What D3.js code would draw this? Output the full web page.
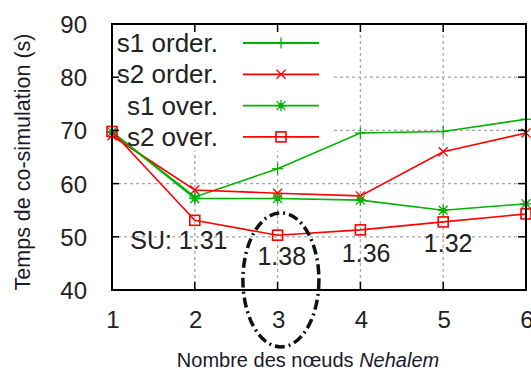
<!DOCTYPE html>
<html><head><meta charset="utf-8">
<script src="https://cdn.jsdelivr.net/npm/d3@7"></script>
<style>body{margin:0;background:#fff}svg{display:block}text{font-family:"Liberation Sans",Arial,sans-serif}</style>
</head><body><div id="c"></div>
<script>
const nodes = [1, 2, 3, 4, 5, 6];
const s1Order = [69.7, 57.5, 62.8, 69.5, 69.8, 72.1];
const s2Order = [69.0, 58.8, 58.2, 57.7, 66.0, 69.5];
const s1Over  = [69.7, 57.2, 57.2, 56.9, 55.0, 56.2];
const s2Over  = [69.8, 53.1, 50.3, 51.3, 52.8, 54.3];
const yTicks = [40, 50, 60, 70, 80, 90];
const xTicks = [1, 2, 3, 4, 5, 6];
const seriesNames = ["s1 order.", "s2 order.", "s1 over.", "s2 over."];
const speedupLabels = ["SU: 1.31", "1.38", "1.36", "1.32"];
const speedupX = [1.22, 3.05, 4.07, 5.06];
const speedupY = [47.7, 44.7, 45.3, 47.1];

const W = 531, H = 372;
const svg = d3.select("#c").append("svg").attr("width", W).attr("height", H);
const x = d3.scaleLinear().domain([1, 6]).range([112, 526]);
const y = d3.scaleLinear().domain([40, 90]).range([290, 24]);

const series = [
  {name: seriesNames[0], vals: s1Order, color: "#00b400", marker: "plus"},
  {name: seriesNames[1], vals: s2Order, color: "#ff0000", marker: "cross"},
  {name: seriesNames[2], vals: s1Over,  color: "#00b400", marker: "star"},
  {name: seriesNames[3], vals: s2Over,  color: "#ff0000", marker: "square"}
];

// grid
const grid = svg.append("g").attr("stroke", "#a8a8a8").attr("stroke-width", 1.3).attr("stroke-dasharray", "3,3");
xTicks.slice(1, -1).forEach(t => grid.append("line").attr("x1", x(t)).attr("x2", x(t)).attr("y1", y(40)).attr("y2", y(90)));
yTicks.slice(1, -1).forEach(t => grid.append("line").attr("x1", x(1)).attr("x2", x(6)).attr("y1", y(t)).attr("y2", y(t)));

// legend box (opaque)
svg.append("rect").attr("x", x(1) + 1).attr("y", y(90) + 1).attr("width", 218).attr("height", 126).attr("fill", "#fff");

function marker(g, type, cx, cy, color) {
  const m = g.append("g").attr("transform", `translate(${cx},${cy})`).attr("stroke", color).attr("fill", "none").attr("stroke-width", 1.3);
  const r = 5.5;
  if (type === "plus" || type === "star") {
    m.append("line").attr("x1", -r).attr("x2", r).attr("y1", 0).attr("y2", 0);
    m.append("line").attr("x1", 0).attr("x2", 0).attr("y1", -r).attr("y2", r);
  }
  if (type === "cross" || type === "star") {
    const q = 4.5;
    m.append("line").attr("x1", -q).attr("x2", q).attr("y1", -q).attr("y2", q);
    m.append("line").attr("x1", -q).attr("x2", q).attr("y1", q).attr("y2", -q);
  }
  if (type === "star") m.append("circle").attr("r", 2).attr("fill", color);
  if (type === "square") m.append("rect").attr("x", -5).attr("y", -5).attr("width", 10).attr("height", 10).attr("stroke-width", 1.6);
}

// series
const line = d3.line().x((d, i) => x(nodes[i])).y(d => y(d));
const plot = svg.append("g");
series.forEach(s => {
  plot.append("path").datum(s.vals).attr("d", line).attr("fill", "none").attr("stroke", s.color).attr("stroke-width", 1.6);
  s.vals.forEach((v, i) => marker(plot, s.marker, x(nodes[i]), y(v), s.color));
});

// legend
const lg = svg.append("g");
series.forEach((s, i) => {
  const cy = 43 + i * 31.3;
  lg.append("text").attr("x", 218).attr("y", cy + 9).attr("text-anchor", "end").attr("font-size", 26).attr("fill", "#222").text(s.name);
  lg.append("line").attr("x1", 243).attr("x2", 319).attr("y1", cy).attr("y2", cy).attr("stroke", s.color).attr("stroke-width", 1.8);
  marker(lg, s.marker, 281, cy, s.color);
});

// border + ticks
const ax = svg.append("g").attr("stroke", "#000");
ax.append("rect").attr("x", x(1)).attr("y", y(90)).attr("width", x(6) - x(1)).attr("height", y(40) - y(90)).attr("fill", "none").attr("stroke-width", 2);
xTicks.slice(1, -1).forEach(t => {
  ax.append("line").attr("x1", x(t)).attr("x2", x(t)).attr("y1", y(40)).attr("y2", y(40) - 8).attr("stroke-width", 1.5);
  ax.append("line").attr("x1", x(t)).attr("x2", x(t)).attr("y1", y(90)).attr("y2", y(90) + 8).attr("stroke-width", 1.5);
});
yTicks.slice(1, -1).forEach(t => {
  ax.append("line").attr("x1", x(1)).attr("x2", x(1) + 7).attr("y1", y(t)).attr("y2", y(t)).attr("stroke-width", 1.5);
  ax.append("line").attr("x1", x(6)).attr("x2", x(6) - 8).attr("y1", y(t)).attr("y2", y(t)).attr("stroke-width", 1.5);
});

// tick labels
svg.append("g").selectAll("text").data(yTicks).join("text")
  .attr("x", 87).attr("y", d => y(d) + 9).attr("text-anchor", "end").attr("font-size", 24).attr("fill", "#222").text(d => d);
svg.append("g").selectAll("text").data(xTicks).join("text")
  .attr("x", d => x(d) + 1).attr("y", 328).attr("text-anchor", "middle").attr("font-size", 24).attr("fill", "#222").text(d => d);

// speedup annotations
speedupLabels.forEach((t, i) => {
  svg.append("text").attr("x", x(speedupX[i])).attr("y", y(speedupY[i]))
    .attr("text-anchor", i === 0 ? "start" : "middle").attr("font-size", 25).attr("fill", "#222").text(t);
});

// ellipse
svg.append("ellipse").attr("cx", x(3.04)).attr("cy", y(41.9)).attr("rx", 38).attr("ry", 67)
  .attr("fill", "none").attr("stroke", "#111").attr("stroke-width", 3.5).attr("stroke-dasharray", "10,4,2,4");

// axis titles
svg.append("text").attr("transform", "translate(30,162) rotate(-90)").attr("text-anchor", "middle")
  .attr("font-size", 21.5).attr("fill", "#1a1a2a").text("Temps de co-simulation (s)");
const xl = svg.append("text").attr("x", 308).attr("y", 367).attr("text-anchor", "middle").attr("font-size", 20).attr("fill", "#1a1a2a");
xl.append("tspan").text("Nombre des nœuds ");
xl.append("tspan").attr("font-style", "italic").text("Nehalem");
</script></body></html>
